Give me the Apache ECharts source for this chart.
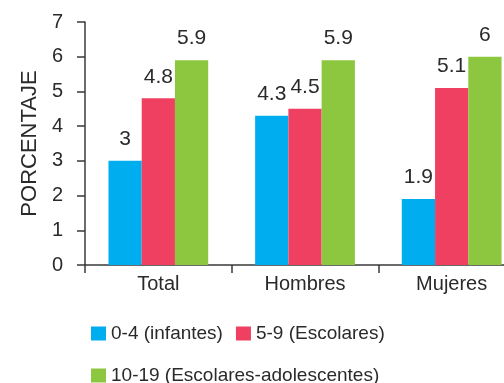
<!DOCTYPE html>
<html>
<head>
<meta charset="utf-8">
<script src="https://cdn.jsdelivr.net/npm/echarts@6/dist/echarts.min.js"></script>
<style>
  html, body { margin: 0; padding: 0; background: #fff; }
  #chart { width: 504px; height: 383px; }
</style>
</head>
<body>
<div id="chart"></div>
<script>
const categories = ["Total", "Hombres", "Mujeres"];
const seriesNames = ["0-4 (infantes)", "5-9 (Escolares)", "10-19 (Escolares-adolescentes)"];
const infantes = [3, 4.3, 1.9];
const escolares = [4.8, 4.5, 5.1];
const adolescentes = [5.9, 5.9, 6];
const COLORS = ["#00AEEF", "#EF4062", "#8DC63F"];

const TEXT = "#2a2a2a";
const FONT = "Liberation Sans";

const chart = echarts.init(document.getElementById("chart"));

const makeBar = (name, data, color) => ({
  name,
  type: "bar",
  data,
  barGap: "0%",
  barCategoryGap: "32%",
  itemStyle: { color },
  label: {
    show: true,
    position: "top",
    distance: 11,
    color: TEXT,
    fontFamily: FONT,
    fontSize: 21,
  },
});

chart.setOption({
  animation: false,
  textStyle: { fontFamily: FONT },
  grid: { left: 85, top: 22, width: 440, bottom: 118, outerBoundsMode: "none" },
  legend: [
    {
      data: seriesNames.slice(0, 2),
      left: 86,
      top: 319,
      icon: "rect",
      itemWidth: 15,
      itemHeight: 14,
      itemGap: 13,
      textStyle: { color: TEXT, fontSize: 19, fontFamily: FONT },
    },
    {
      data: seriesNames.slice(2),
      left: 86,
      top: 361,
      icon: "rect",
      itemWidth: 15,
      itemHeight: 14,
      textStyle: { color: TEXT, fontSize: 19, fontFamily: FONT },
    },
  ],
  xAxis: {
    type: "category",
    data: categories,
    axisLine: { lineStyle: { color: "#3a3a3a", width: 1.5 } },
    axisTick: { show: true, length: 8, lineStyle: { color: "#3a3a3a", width: 1.5 } },
    axisLabel: { color: TEXT, fontSize: 20, margin: 9, fontFamily: FONT },
  },
  yAxis: {
    type: "value",
    min: 0,
    max: 7,
    interval: 1,
    name: "PORCENTAJE",
    nameLocation: "middle",
    nameGap: 41,
    nameTextStyle: { color: TEXT, fontSize: 22, fontFamily: FONT },
    axisLine: { show: true, lineStyle: { color: "#3a3a3a", width: 1.5 } },
    axisTick: { show: true, length: 8, lineStyle: { color: "#3a3a3a", width: 1.5 } },
    axisLabel: { color: TEXT, fontSize: 20, margin: 22, fontFamily: FONT },
    splitLine: { show: false },
  },
  series: [
    makeBar(seriesNames[0], infantes, COLORS[0]),
    makeBar(seriesNames[1], escolares, COLORS[1]),
    makeBar(seriesNames[2], adolescentes, COLORS[2]),
  ],
});
</script>
</body>
</html>
